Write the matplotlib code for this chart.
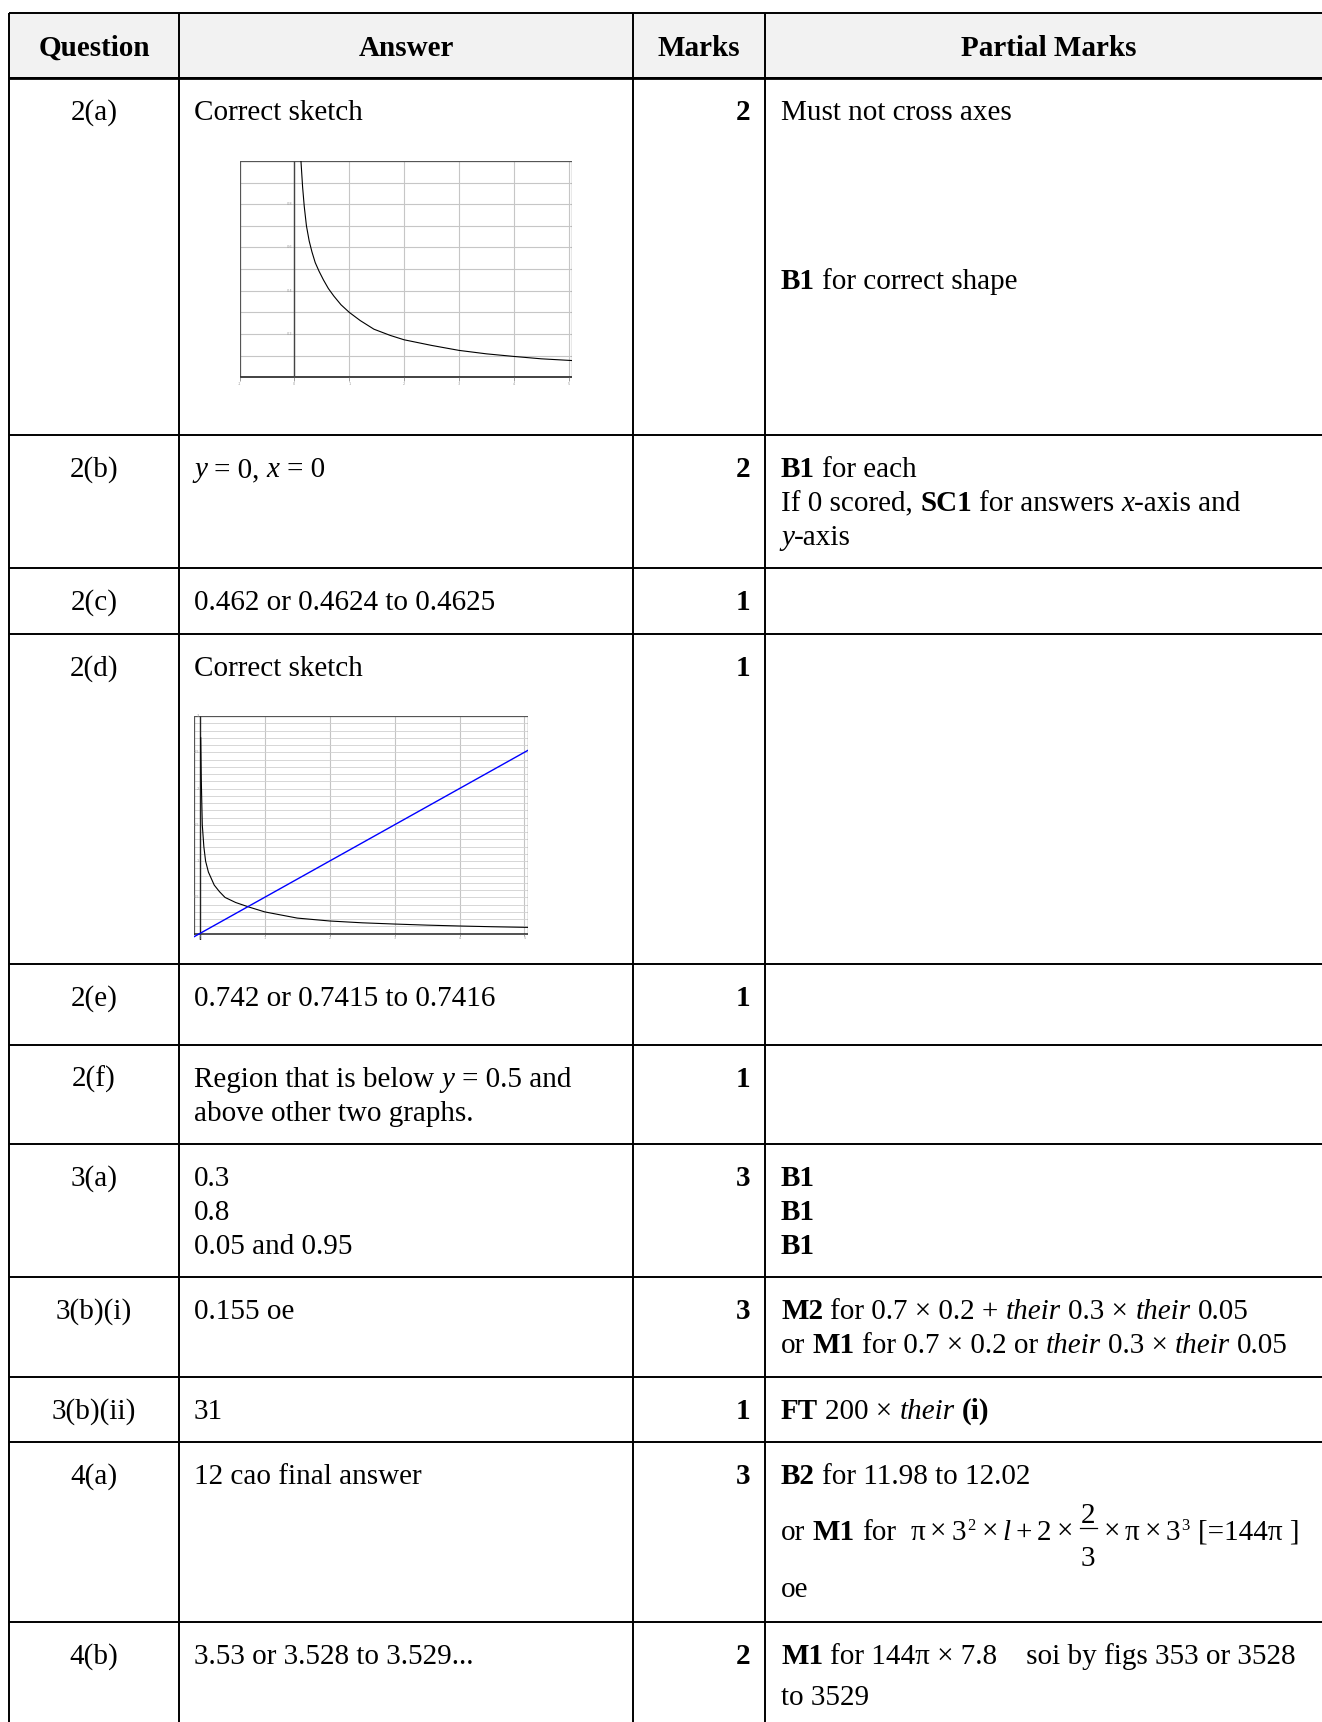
import numpy as np
import matplotlib
matplotlib.use("Agg")
import matplotlib.pyplot as plt
from matplotlib.patches import Rectangle
from matplotlib.font_manager import FontProperties

W, H = 1322, 1722

plt.rcParams['font.family'] = ['Liberation Serif', 'DejaVu Serif']

# ---- table content ----
headers = ["Question", "Answer", "Marks", "Partial Marks"]
questions = ["2(a)", "2(b)", "2(c)", "2(d)", "2(e)", "2(f)",
             "3(a)", "3(b)(i)", "3(b)(ii)", "4(a)", "4(b)"]
marks = ["2", "2", "1", "1", "1", "1", "3", "3", "1", "3", "2"]

# each cell = list of lines, each line = list of (text, style) runs
# style: n normal, b bold, i italic, m tight math text, s superscript, f fraction "num|den"
answers = [
    [[("Correct sketch", "n")]],
    [[("y", "i"), (" = 0, ", "n"), ("x", "i"), (" = 0", "n")]],
    [[("0.462 or 0.4624 to 0.4625", "n")]],
    [[("Correct sketch", "n")]],
    [[("0.742 or 0.7415 to 0.7416", "n")]],
    [[("Region that is below ", "n"), ("y", "i"), (" = 0.5 and", "n")],
     [("above other two graphs.", "n")]],
    [[("0.3", "n")], [("0.8", "n")], [("0.05 and 0.95", "n")]],
    [[("0.155 oe", "n")]],
    [[("31", "n")]],
    [[("12 cao final answer", "n")]],
    [[("3.53 or 3.528 to 3.529...", "n")]],
]

formula = [("π × 3", "m"), ("2", "s"), (" × ", "m"), ("l", "i"), (" + 2 × ", "m"),
           ("2|3", "f"), (" × π × 3", "m"), ("3", "s"), (" [=144π ]", "n")]

partials = [
    [[("Must not cross axes", "n")], [("B1", "b"), (" for correct shape", "n")]],
    [[("B1", "b"), (" for each", "n")],
     [("If 0 scored, ", "n"), ("SC1", "b"), (" for answers ", "n"), ("x", "i"), ("-axis and", "n")],
     [("y", "i"), ("-axis", "n")]],
    [],
    [],
    [],
    [],
    [[("B1", "b")], [("B1", "b")], [("B1", "b")]],
    [[("M2", "b"), (" for 0.7 × 0.2 + ", "n"), ("their", "i"), (" 0.3 × ", "n"),
      ("their", "i"), (" 0.05", "n")],
     [("or ", "n"), ("M1", "b"), (" for 0.7 × 0.2 or ", "n"), ("their", "i"),
      (" 0.3 × ", "n"), ("their", "i"), (" 0.05", "n")]],
    [[("FT", "b"), (" 200 × ", "n"), ("their", "i"), (" ", "n"), ("(i)", "b")]],
    [[("B2", "b"), (" for 11.98 to 12.02", "n")],
     [("or ", "n"), ("M1", "b"), (" for  ", "n")] + formula,
     [("oe", "n")]],
    [[("M1", "b"), (" for 144π × 7.8    soi by figs 353 or 3528", "n")],
     [("to 3529", "n")]],
]

# ---- sketch data ----
sk1_x = [0.12, 0.15, 0.18, 0.22, 0.27, 0.32, 0.38, 0.45, 0.53, 0.62, 0.72, 0.85, 1.0,
         1.2, 1.45, 1.75, 2.0, 2.5, 3.0, 3.5, 4.0, 4.5, 5.06]
sk1_y = [1.0, 0.88, 0.79, 0.70, 0.63, 0.58, 0.53, 0.49, 0.45, 0.41, 0.375, 0.335, 0.30,
         0.262, 0.222, 0.193, 0.173, 0.147, 0.124, 0.108, 0.096, 0.085, 0.077]
sk1_xticks = [-1, 0, 1, 2, 3, 4, 5]
sk1_yticks = [0.2, 0.4, 0.6, 0.8]

sk2_x = [0.012, 0.02, 0.036, 0.06, 0.087, 0.13, 0.22, 0.30, 0.386, 0.55, 0.745, 1.0, 1.5,
         2.0, 2.5, 3.0, 3.5, 4.0, 4.5, 5.05]
sk2_y = [2.7, 2.15, 1.5, 1.2, 1.0, 0.85, 0.67, 0.58, 0.5, 0.43, 0.37, 0.30, 0.215,
         0.175, 0.15, 0.133, 0.118, 0.106, 0.096, 0.087]
sk2_line_x = [-0.087, 5.05]
sk2_line_y = [-0.04, 2.525]
sk2_xticks = [0, 1, 2, 3, 4, 5]
sk2_yticks = [0.5, 1, 1.5, 2, 2.5, 3]

# ---- layout (pixels) ----
row_lines = [13, 78, 435, 568, 633.5, 964, 1045, 1144, 1277, 1377, 1442, 1622]
col_lines = [9, 179, 633, 765]
right_edge = 1333
FS = 21
PITCH = 34
MATH_GAP = 5

fig = plt.figure(figsize=(W / 100, H / 100), dpi=100)
ax = fig.add_axes([0, 0, 1, 1])
ax.set_xlim(0, W)
ax.set_ylim(H, 0)
ax.axis('off')
rend = fig.canvas.get_renderer()


def props(style, size=FS):
    return FontProperties(family='Liberation Serif', size=size,
                          weight='bold' if style == 'b' else 'normal',
                          style='italic' if style == 'i' else 'normal')


def width(s, style, size=FS):
    p = props(style, size)
    w1 = rend.get_text_width_height_descent('|' + s + '|', p, ismath=False)[0]
    w0 = rend.get_text_width_height_descent('||', p, ismath=False)[0]
    return w1 - w0


def draw_runs(x, y, runs):
    for s, st in runs:
        if st == 's':
            ax.text(x + 1, y - 10, s, fontproperties=props('n', 12), va='baseline', ha='left')
            x += width(s, 'n', 12) + 2
            continue
        if st == 'f':
            num, den = s.split('|')
            w = max(width(num, 'n'), width(den, 'n')) + 2
            cx = x + 2 + w / 2
            ax.text(cx, y - 17, num, fontproperties=props('n'), va='baseline', ha='center')
            ax.text(cx, y + 26, den, fontproperties=props('n'), va='baseline', ha='center')
            ax.plot([x + 2, x + 2 + w], [y - 12, y - 12], color='black', lw=0.9)
            x += w + 4
            continue
        if st == 'm':
            for j, tok in enumerate(s.split(' ')):
                if j > 0:
                    x += MATH_GAP
                if tok:
                    ax.text(x, y, tok, fontproperties=props('n'), va='baseline', ha='left')
                    x += width(tok, 'n')
            continue
        lead = len(s) - len(s.lstrip(' '))
        core = s.strip(' ')
        dx = width(s[:lead], st) if lead else 0
        if core:
            ax.text(x + dx, y, core, fontproperties=props(st), va='baseline', ha='left')
        x += width(s, st)


# header
ax.add_patch(Rectangle((col_lines[0], row_lines[0]), W, row_lines[1] - row_lines[0],
                       fc='#f2f2f2', ec='none', zorder=0))
centers = [(col_lines[0] + col_lines[1]) / 2, (col_lines[1] + col_lines[2]) / 2,
           (col_lines[2] + col_lines[3]) / 2, (col_lines[3] + right_edge) / 2]
for cx, h in zip(centers, headers):
    ax.text(cx, 56, h, fontproperties=props('b'), ha='center', va='baseline')

# table lines
ax.hlines(row_lines, col_lines[0], W, color='black', lw=1.4)
ax.hlines(row_lines[1], col_lines[0], W, color='black', lw=2.0)
ax.vlines(col_lines, row_lines[0], H, color='black', lw=1.4)

# body
partial_offsets = {0: [0, 169], 9: [0, 56, 113], 10: [0, 41]}
for i in range(len(questions)):
    base = row_lines[i + 1] + 42
    ax.text(centers[0], base, questions[i], fontproperties=props('n'),
            ha='center', va='baseline')
    ax.text(750, base, marks[i], fontproperties=props('b'), ha='right', va='baseline')
    for k, line in enumerate(answers[i]):
        draw_runs(194, base + k * PITCH, line)
    offs = partial_offsets.get(i, [k * PITCH for k in range(len(partials[i]))])
    for k, line in enumerate(partials[i]):
        draw_runs(781, base + offs[k], line)


# ---- sketch 1 ----
def frac_box(l, t, r, b):
    return [l / W, 1 - b / H, (r - l) / W, (b - t) / H]


g1 = fig.add_axes(frac_box(239.5, 161, 572, 388))
g1.set_xlim(-1, 5.06)
g1.set_ylim(-0.05, 1.0)
g1.set_xticks([])
g1.set_yticks([])
for s in g1.spines.values():
    s.set_visible(False)
g1.vlines(sk1_xticks[1:], 0, 1, color='#c6c6c6', lw=0.8)
g1.hlines(np.arange(0.1, 1.01, 0.1), -1, 5.06, color='#c6c6c6', lw=0.8)
g1.plot([-1, -1, 5.06, 5.06], [0, 1, 1, 0], color='#555555', lw=0.9)
g1.axhline(0, color='#333333', lw=1.3)
g1.vlines(0, 0, 1, color='#444444', lw=1.0)
g1.vlines(sk1_xticks, -0.018, 0, color='#777777', lw=0.5)
for xt in sk1_xticks:
    g1.text(xt, -0.02, str(xt), fontsize=2.5, color='#999999', ha='center', va='top',
            family='DejaVu Sans')
for yt in sk1_yticks:
    g1.text(-0.04, yt, "%.1f" % yt, fontsize=2.5, color='#999999', ha='right', va='center',
            family='DejaVu Sans')
g1.plot(sk1_x, sk1_y, color='black', lw=0.8)

# ---- sketch 2 ----
g2 = fig.add_axes(frac_box(194.3, 716, 527.7, 939.5))
g2.set_xlim(-0.087, 5.05)
g2.set_ylim(-0.08, 3.0)
g2.set_xticks([])
g2.set_yticks([])
for s in g2.spines.values():
    s.set_visible(False)
g2.vlines(sk2_xticks[1:], 0, 3, color='#c4c4c4', lw=0.8)
g2.hlines(np.arange(0.1, 3.0, 0.1), -0.087, 5.05, color='#d0d0d0', lw=0.6)
g2.plot([-0.087, -0.087, 5.05, 5.05], [0, 3, 3, 0], color='#555555', lw=0.9)
g2.axhline(0, color='#222222', lw=1.1)
g2.vlines(0, -0.08, 3, color='#222222', lw=1.0)
g2.vlines(sk2_xticks, -0.03, 0, color='#777777', lw=0.5)
for xt in sk2_xticks:
    g2.text(xt, -0.025, str(xt), fontsize=2.5, color='#999999', ha='center', va='top',
            family='DejaVu Sans')
for yt in sk2_yticks:
    g2.text(-0.01, yt, "%g" % yt, fontsize=2.5, color='#999999', ha='right', va='center',
            family='DejaVu Sans')
g2.plot(sk2_x, sk2_y, color='black', lw=0.8)
g2.plot(sk2_line_x, sk2_line_y, color='#0000ff', lw=1.0)

fig.savefig("out.png", dpi=100)
